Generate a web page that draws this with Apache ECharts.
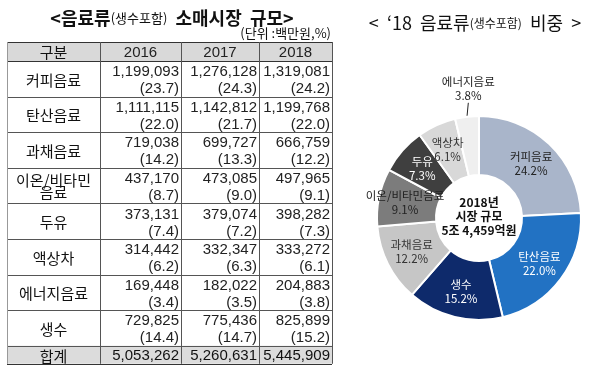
<!DOCTYPE html>
<html><head><meta charset="utf-8">
<script src="https://cdn.jsdelivr.net/npm/echarts@6/dist/echarts.min.js"></script>
<style>html,body{margin:0;padding:0;background:#fff}#c{width:600px;height:372px}</style>
</head><body><div id="c"></div>
<script>
// ---- data ----
const categories = ['커피음료','탄산음료','과채음료','이온/비타민\n음료','두유','액상차','에너지음료','생수'];
const years = ['2016','2017','2018'];
const v2016 = [1199093,1111115,719038,437170,373131,314442,169448,729825];
const p2016 = [23.7,22.0,14.2,8.7,7.4,6.2,3.4,14.4];
const v2017 = [1276128,1142812,699727,473085,379074,332347,182022,775436];
const p2017 = [24.3,21.7,13.3,9.0,7.2,6.3,3.5,14.7];
const v2018 = [1319081,1199768,666759,497965,398282,333272,204883,825899];
const p2018 = [24.2,22.0,12.2,9.1,7.3,6.1,3.8,15.2];
const totals = [5053262,5260631,5445909];
const pieOrder = ['커피음료','탄산음료','생수','과채음료','이온/비타민음료','두유','액상차','에너지음료'];
const pieColors = ['#a9b5ca','#2272c3','#0e2a6b','#c6c6c6','#7c7c7c','#3f3f3f','#d8d8d8','#efefef'];
const pieLabelColors = ['#222','#fff','#fff','#333','#222','#fff','#333','#222'];

// ---- layout ----
const colX = [7, 100, 181, 259, 332];
const headTop = 42, headH = 19, rowH = 35.6, totH = 18;
const FONT_K = '"Noto Sans CJK KR", sans-serif';
const FONT_N = '"Liberation Sans", Arial, sans-serif';
const fmt = n => n.toLocaleString('en-US');

const g = [];
const tableBottom = headTop + headH + rowH * categories.length + totH;
// backgrounds
g.push({type:'rect', shape:{x:colX[0], y:headTop, width:colX[4]-colX[0], height:headH}, style:{fill:'#d9d9d9'}});
g.push({type:'rect', shape:{x:colX[0], y:tableBottom-totH, width:colX[4]-colX[0], height:totH}, style:{fill:'#dcdcdc'}});
// horizontal lines
const hy = [headTop, headTop+headH];
for (let i=1;i<=categories.length;i++) hy.push(headTop+headH+rowH*i);
hy.push(tableBottom);
hy.forEach((y,i)=>g.push({type:'line', shape:{x1:colX[0], y1:Math.round(y)+0.5, x2:colX[4], y2:Math.round(y)+0.5},
  style:{stroke:(i===0||i===1||i===hy.length-1)?'#333':'#555', lineWidth:1}}));
// vertical lines
colX.forEach((x,i)=>g.push({type:'line', shape:{x1:x+0.5, y1:headTop, x2:x+0.5, y2:tableBottom},
  style:{stroke:(i===0)?'#999':'#555', lineWidth:1}}));
// header texts
const headCx = i => (colX[i]+colX[i+1])/2;
g.push({type:'text', x:headCx(0), y:headTop+headH/2+1, style:{text:'구분', font:'15px '+FONT_K, fill:'#111', align:'center', verticalAlign:'middle'}});
years.forEach((yr,i)=>g.push({type:'text', x:headCx(i+1), y:headTop+headH/2+1, style:{text:yr, font:'15px '+FONT_N, fill:'#222', align:'center', verticalAlign:'middle'}}));
// rows
const vals = [v2016, v2017, v2018], pcts = [p2016, p2017, p2018];
categories.forEach((c,r)=>{
  const top = headTop+headH+rowH*r;
  g.push({type:'text', x:headCx(0), y:top+rowH/2+1, style:{text:c, font:'15px '+FONT_K, fill:'#111', align:'center', verticalAlign:'middle', lineHeight:12}});
  for (let k=0;k<3;k++){
    const rx = colX[k+2]-2;
    g.push({type:'text', x:rx, y:top+11, style:{text:fmt(vals[k][r]), font:'15px '+FONT_N, fill:'#222', align:'right', verticalAlign:'middle'}});
    g.push({type:'text', x:rx, y:top+28, style:{text:'('+pcts[k][r].toFixed(1)+')', font:'15px '+FONT_N, fill:'#222', align:'right', verticalAlign:'middle'}});
  }
});
// totals
g.push({type:'text', x:headCx(0), y:tableBottom-totH/2+1, style:{text:'합계', font:'15px '+FONT_K, fill:'#111', align:'center', verticalAlign:'middle'}});
totals.forEach((t,k)=>g.push({type:'text', x:colX[k+2]-2, y:tableBottom-totH/2+1, style:{text:fmt(t), font:'15px '+FONT_N, fill:'#111', align:'right', verticalAlign:'middle'}}));
// titles
g.push({type:'text', x:172, y:18, style:{text:'{a|<음료류}{s|(생수포함)}{a|  소매시장  규모>}', align:'center', verticalAlign:'middle',
  rich:{a:{font:'bold 18px '+FONT_K, fill:'#111'}, s:{font:'13px '+FONT_K, fill:'#111'}}}});
g.push({type:'text', x:331, y:33, style:{text:'(단위 :백만원,%)', font:'13px '+FONT_K, fill:'#111', align:'right', verticalAlign:'middle'}});
g.push({type:'text', x:475, y:23, style:{text:'{a|<  ‘18  음료류}{s|(생수포함)}{a|  비중  >}', align:'center', verticalAlign:'middle',
  rich:{a:{font:'18px '+FONT_K, fill:'#111'}, s:{font:'12px '+FONT_K, fill:'#111'}}}});

// pie
const pieCenter = [479, 218];
const tot18 = totals[2];
const jo = Math.floor(tot18/1000000), eok = Math.floor((tot18%1000000)/100);
g.push({type:'text', x:pieCenter[0], y:pieCenter[1]-2, style:{text:'2018년\n시장 규모\n'+jo+'조 '+fmt(eok)+'억원', font:'bold 12px '+FONT_K, fill:'#111', align:'center', verticalAlign:'middle', lineHeight:14}});

const pieData = pieOrder.map((name,i)=>{
  const idx = categories.findIndex(c=>c.replace('\n','')===name);
  const d = {name, value:v2018[idx], pct:p2018[idx], itemStyle:{color:pieColors[i]},
    label:{color:pieLabelColors[i]}};
  if (name==='에너지음료') {
    d.label = {position:'outside', color:'#222', align:'center'};
    d.labelLine = {show:true, length:14, length2:0, lineStyle:{color:'#222', width:1}};
  }
  return d;
});

const chart = echarts.init(document.getElementById('c'));
chart.setOption({
  animation:false,
  graphic:{elements:g},
  series:[{
    type:'pie', center:pieCenter, radius:[43,102], startAngle:90, clockwise:true,
    avoidLabelOverlap:false, silent:true,
    itemStyle:{borderColor:'#fff', borderWidth:2},
    label:{show:true, position:'inside', fontFamily:FONT_K, fontSize:11.5, lineHeight:14,
      formatter:p=>p.name+'\n'+pieData[p.dataIndex].pct.toFixed(1)+'%'},
    labelLine:{show:false},
    labelLayout:function(params){
      if (params.dataIndex===7) {
        return {x: params.labelLinePoints ? params.labelLinePoints[2][0]+3 : undefined,
                y: params.labelLinePoints ? params.labelLinePoints[2][1]-14 : undefined,
                align:'center', verticalAlign:'middle'};
      }
      return {};
    },
    data:pieData
  }]
});
</script></body></html>
